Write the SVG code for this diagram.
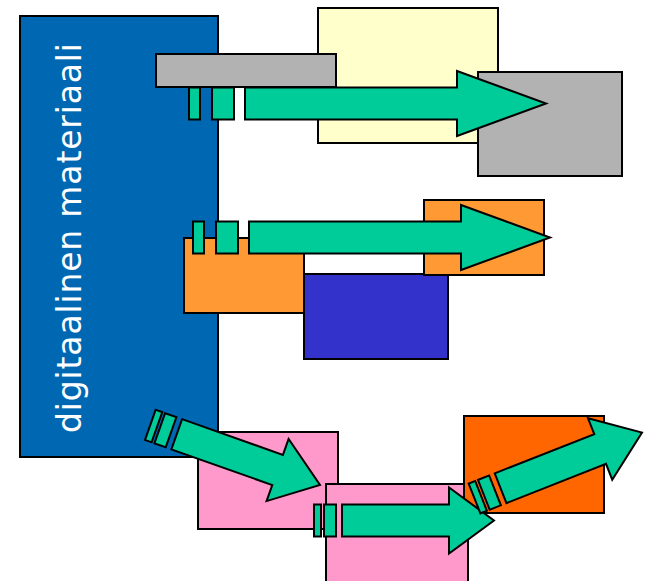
<svg xmlns="http://www.w3.org/2000/svg" xmlns:xlink="http://www.w3.org/1999/xlink" width="647" height="581" viewBox="0 0 647 581">
<style>
.s{stroke:#000;stroke-width:2;stroke-linejoin:miter}
.g{fill:#00CC99}
.lbl{font-family:"DejaVu Sans","Liberation Sans",sans-serif;font-size:33px;fill:#fff}
</style>
<defs>
<g id="bigArrow" class="s">
<rect class="g" x="-357" y="-16" width="11" height="32"/>
<rect class="g" x="-334" y="-16" width="22" height="32"/>
<polygon class="g" points="-301,-16 -89,-16 -89,-32.5 0,0 -89,32.5 -89,16 -301,16"/>
</g>
<g id="smallArrow" class="s">
<rect class="g" x="-180" y="-16" width="7" height="32"/>
<rect class="g" x="-170" y="-16" width="12" height="32"/>
<polygon class="g" points="-152,-16 -45,-16 -45,-33 0,0 -45,33 -45,16 -152,16"/>
</g>
</defs>
<rect width="647" height="581" fill="#fff"/>
<g id="pink1"><rect class="s" x="198" y="432" width="140" height="97" fill="#FF99CC"/></g>
<g id="digitaalinen"><rect class="s" x="20" y="16" width="198" height="441" fill="#0068B3"/>
<text class="lbl" transform="translate(81,238) rotate(-90)" text-anchor="middle" textLength="390" lengthAdjust="spacing">digitaalinen materiaali</text></g>
<g id="yellow"><rect class="s" x="318" y="8" width="180" height="135" fill="#FFFFCC"/></g>
<g id="grayBar"><rect class="s" x="156" y="54" width="180" height="33" fill="#B2B2B2"/></g>
<g id="grayBox"><rect class="s" x="478" y="72" width="144" height="104" fill="#B2B2B2"/></g>
<g id="purple"><rect class="s" x="304" y="274" width="144" height="85" fill="#3333CC"/></g>
<g id="orangeLeft"><rect class="s" x="184" y="238" width="120" height="75" fill="#FF9933"/></g>
<g id="orangeRight"><rect class="s" x="424" y="200" width="120" height="75" fill="#FF9933"/></g>
<g id="pink2"><rect class="s" x="326" y="484" width="142" height="100" fill="#FF99CC"/></g>
<g id="orangeRed"><rect class="s" x="464" y="416" width="140" height="97" fill="#FF6600"/></g>
<g id="connectors">
<use xlink:href="#bigArrow" transform="translate(546,103.5)"/>
<use xlink:href="#bigArrow" transform="translate(550,237.5)"/>
<use xlink:href="#smallArrow" transform="translate(320,485) rotate(19.5)"/>
<use xlink:href="#smallArrow" transform="translate(494,520.5)"/>
<use xlink:href="#smallArrow" transform="translate(642,432.5) rotate(-21.5)"/>
</g>
</svg>
